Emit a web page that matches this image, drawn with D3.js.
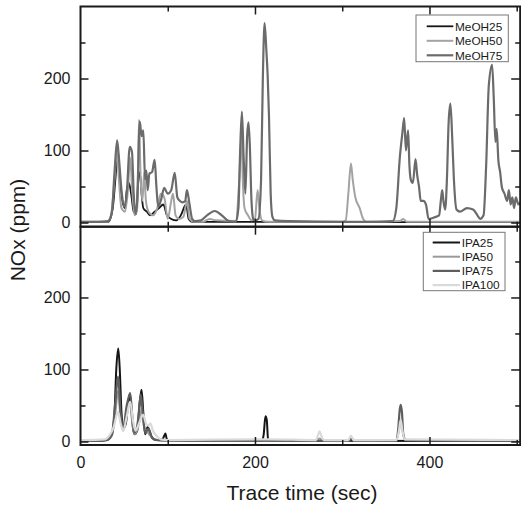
<html>
<head>
  <script src="https://d3js.org/d3.v7.min.js"></script>
  <style>
    body { margin: 0; background: white; }
    text { font-family: "Liberation Sans", Arial, sans-serif; fill: #1a1a1a; }
    .frame { fill: none; stroke: #1a1a1a; stroke-width: 2px; }
    .trace { fill: none; stroke-linejoin: round; }
  </style>
</head>
<body>
  <svg id="chart" width="521" height="510"></svg>
  <script>
// x axis ticks
const xMajor = [0, 200, 400];
const xMinor = [100, 300, 500];
const yMajor = [0, 100, 200];
const yMinor = [50, 150, 250];

// upper panel (methanol), [time s, NOx ppm]
const meoh25 = [[0,0.5],[32,1],[37,20],[40,60],[43,100],[45,60],[48,30],[51,20],[53,45],[55.5,55],[58,40],[61,15],[64,12],[66,55],[68,70],[70,40],[72,20],[76,15],[80,10],[85,15],[90,20],[95,25],[99,10],[104,5],[110,3],[115,10],[121,25],[124,5],[128,1],[504,0.5]];
const meoh50 = [[0,1],[30,1],[35,10],[39,60],[42,100],[44,60],[47,20],[51,15],[54,40],[57,90],[59,50],[62,10],[65,20],[67,143],[69,60],[71,30],[73,70],[75,30],[78,15],[83,10],[88,20],[92,40],[96,35],[100,5],[104,30],[106,40],[109,10],[113,5],[118,8],[122,30],[125,5],[130,1],[140,1],[148,5],[155,3],[178,2],[182,60],[184.5,120],[186,60],[188,20],[192,10],[196,3],[200,5],[203,45],[205,20],[208,3],[215,1],[300,1],[304,3],[307,40],[310,82],[312,60],[315,35],[320,20],[324,5],[328,1],[366,2],[370,5],[374,1],[504,1]];
const meoh75 = [[0,1],[20,1],[32,2],[36,15],[39,70],[42,114],[44,90],[47,45],[50,22],[53,40],[56.5,105],[59,98],[61,40],[63,12],[65,30],[68,140],[70,120],[72,128],[74,60],[75.5,72],[77,45],[79,68],[82,70],[85,87],[87,50],[89,22],[92,30],[96,48],[100,40],[104,45],[108,69],[111,35],[114,30],[117,28],[120,30],[122,45],[125,25],[128,5],[131,2],[138,3],[145,10],[154,16],[162,10],[170,2],[178,1],[181,20],[183,100],[185,154],[187,90],[189,40],[191,120],[192.5,139],[194,110],[196,30],[198,5],[200,3],[204,5],[207,60],[209,200],[211,277],[213,240],[214.5,205],[216,150],[218,40],[220,8],[223,3],[240,2],[300,1],[340,1],[358,2],[362,20],[366,90],[369,125],[371,145],[373,100],[375.5,128],[377,80],[378.5,60],[381,55],[384,88],[386,65],[388,50],[390,30],[393,30],[396,25],[399,5],[405,7],[411,10],[413,30],[414.6,45],[416,30],[418,18],[420,60],[422,140],[424,165],[426,120],[428,60],[431,18],[435,15],[443,20],[450,18],[455,10],[458,5],[462,10],[465,80],[468,190],[471.8,219],[473.7,172],[475.6,112],[477,130],[479,86],[481,70],[483,49],[486,40],[489,30],[491,45],[493,25],[495,35],[497,20],[499,35],[502,25],[504,28]];

// lower panel (isopropanol)
const ipa25 = [[0,0.5],[25,1],[32,3],[36,10],[39,40],[41,100],[43.3,129],[45,100],[47,40],[49,18],[52,25],[54,45],[56.6,67],[58,50],[60,20],[62,10],[65,15],[68,55],[70,72],[72,40],[74,10],[77,20],[79,15],[82,5],[88,2],[94,3],[96,8],[97.3,11],[99,3],[104,1],[208,1],[210,10],[212,35],[213.5,30],[215,3],[218,1],[504,0.5]];
const ipa50 = [[0,1],[30,2],[36,8],[40,40],[43,70],[46,30],[49,15],[53,40],[56.6,55],[59,30],[62,10],[66,20],[70,45],[73,20],[76,15],[80,8],[86,2],[100,1],[270,1],[274,4],[278,1],[306,1],[310,4],[314,1],[362,2],[365,15],[367,27],[369,15],[372,2],[504,1]];
const ipa75 = [[0,1],[30,2],[36,10],[40,55],[43,90],[46,40],[49,20],[53,50],[57,67],[59,40],[62,12],[66,30],[69,65],[71,45],[74,12],[78,18],[81,8],[86,2],[100,1],[308,1],[311,4],[314,1],[362,1],[364,15],[366,45],[367,51],[368.5,40],[370,10],[373,2],[504,1]];
const ipa100 = [[0,2],[28,3],[33,8],[38,20],[43,41],[46,25],[49,15],[53,35],[57,55],[60,30],[63,15],[67,25],[72,37],[75,25],[78,22],[80,25],[83,15],[87,8],[92,3],[100,2],[215,3],[270,2],[272,8],[274,14],[276,8],[279,2],[307,2],[310,8],[313,2],[362,2],[365,15],[367,30],[369,15],[372,3],[504,2]];

const upperNames = ["MeOH25", "MeOH50", "MeOH75"];
const lowerNames = ["IPA25", "IPA50", "IPA75", "IPA100"];

    const svg = d3.select("#chart");
    const left = 80.5, right = 520.2;
    const top1 = 6.5, mid = 226.7, bottom2 = 445;

    const x = d3.scaleLinear().domain([0, 504]).range([left, right]);
    const yUp = d3.scaleLinear().domain([-5.8, 300]).range([mid, top1]);
    const yLo = d3.scaleLinear().domain([-4.9, 298.3]).range([bottom2, mid]);

    const upper = [
      { name: upperNames[0], data: meoh25, color: "#151515", w: 1.8 },
      { name: upperNames[1], data: meoh50, color: "#a3a3a3", w: 2 },
      { name: upperNames[2], data: meoh75, color: "#6b6b6b", w: 2.2 }
    ];
    const lower = [
      { name: lowerNames[0], data: ipa25, color: "#151515", w: 2 },
      { name: lowerNames[1], data: ipa50, color: "#9a9a9a", w: 2 },
      { name: lowerNames[2], data: ipa75, color: "#5e5e5e", w: 2.2 },
      { name: lowerNames[3], data: ipa100, color: "#dadada", w: 2.2 }
    ];

    function drawPanel(id, y, series, yTop, yBot, drawOrder) {
      svg.append("clipPath").attr("id", id)
        .append("rect").attr("x", left).attr("y", yTop)
        .attr("width", right - left).attr("height", yBot - yTop);

      const line = d3.line()
        .x(d => x(d[0]))
        .y(d => y(d[1]))
        .curve(d3.curveMonotoneX);

      const g = svg.append("g").attr("clip-path", "url(#" + id + ")");
      drawOrder.forEach(i => {
        g.append("path").attr("class", "trace")
          .attr("d", line(series[i].data))
          .attr("stroke", series[i].color)
          .attr("stroke-width", series[i].w);
      });

      // inward ticks on all four sides
      const tickStyle = a => a.selectAll(".tick line").attr("stroke", "#1a1a1a").attr("stroke-width", 1.5);
      const noDomain = a => a.select(".domain").remove();

      svg.append("g").attr("transform", "translate(" + left + ",0)")
        .call(d3.axisLeft(y).tickValues(yMajor).tickSize(-8).tickPadding(10))
        .call(noDomain).call(tickStyle)
        .selectAll("text").style("font-size", "16px").attr("fill", "#1a1a1a");
      svg.append("g").attr("transform", "translate(" + left + ",0)")
        .call(d3.axisLeft(y).tickValues(yMinor).tickSize(-5).tickFormat(""))
        .call(noDomain).call(tickStyle);
      svg.append("g").attr("transform", "translate(" + right + ",0)")
        .call(d3.axisRight(y).tickValues(yMajor).tickSize(-9).tickFormat(""))
        .call(noDomain).call(tickStyle);
      svg.append("g").attr("transform", "translate(" + right + ",0)")
        .call(d3.axisRight(y).tickValues(yMinor).tickSize(-5).tickFormat(""))
        .call(noDomain).call(tickStyle);

      svg.append("g").attr("transform", "translate(0," + yTop + ")")
        .call(d3.axisTop(x).tickValues(xMajor.filter(v => v > 0)).tickSize(-8).tickFormat(""))
        .call(noDomain).call(tickStyle);
      svg.append("g").attr("transform", "translate(0," + yTop + ")")
        .call(d3.axisTop(x).tickValues(xMinor).tickSize(-5).tickFormat(""))
        .call(noDomain).call(tickStyle);
      svg.append("g").attr("transform", "translate(0," + yBot + ")")
        .call(d3.axisBottom(x).tickValues(xMajor.filter(v => v > 0)).tickSize(-8).tickFormat(""))
        .call(noDomain).call(tickStyle);
      svg.append("g").attr("transform", "translate(0," + yBot + ")")
        .call(d3.axisBottom(x).tickValues(xMinor).tickSize(-5).tickFormat(""))
        .call(noDomain).call(tickStyle);

      svg.append("rect").attr("class", "frame")
        .attr("x", left).attr("y", yTop)
        .attr("width", right - left).attr("height", yBot - yTop);
    }

    drawPanel("clipUp", yUp, upper, top1, mid, [0, 1, 2]);
    drawPanel("clipLo", yLo, lower, mid, bottom2, [0, 1, 2, 3]);

    // x tick labels under the lower panel
    svg.append("g").attr("transform", "translate(0," + bottom2 + ")")
      .call(d3.axisBottom(x).tickValues(xMajor).tickSize(0).tickPadding(12))
      .call(a => a.select(".domain").remove())
      .selectAll("text").style("font-size", "16px").attr("fill", "#1a1a1a");

    // legends
    function legend(series, bx, by, bw, bh, firstY, step, lx0, lx1, tx) {
      const g = svg.append("g");
      g.append("rect").attr("x", bx).attr("y", by).attr("width", bw).attr("height", bh)
        .attr("fill", "white").attr("stroke", "#777").attr("stroke-width", 1);
      series.forEach((s, i) => {
        const yy = firstY + i * step;
        g.append("line").attr("x1", lx0).attr("x2", lx1).attr("y1", yy).attr("y2", yy)
          .attr("stroke", s.color).attr("stroke-width", s.w);
        g.append("text").attr("x", tx).attr("y", yy).attr("dy", "0.36em")
          .style("font-size", "11.8px").text(s.name);
      });
    }
    legend(upper, 416, 15, 92.3, 46.7, 26.3, 14.5, 426.7, 453.3, 455);
    legend(lower, 423.3, 232.3, 81.7, 58.4, 242.5, 14.2, 432.7, 460, 461.7);

    // axis titles
    svg.append("text").attr("x", 302).attr("y", 500).attr("text-anchor", "middle")
      .style("font-size", "21px").text("Trace time (sec)");
    svg.append("text").attr("transform", "translate(25,230) rotate(-90)")
      .attr("text-anchor", "middle").style("font-size", "21px").text("NOx (ppm)");
  </script>
</body>
</html>
